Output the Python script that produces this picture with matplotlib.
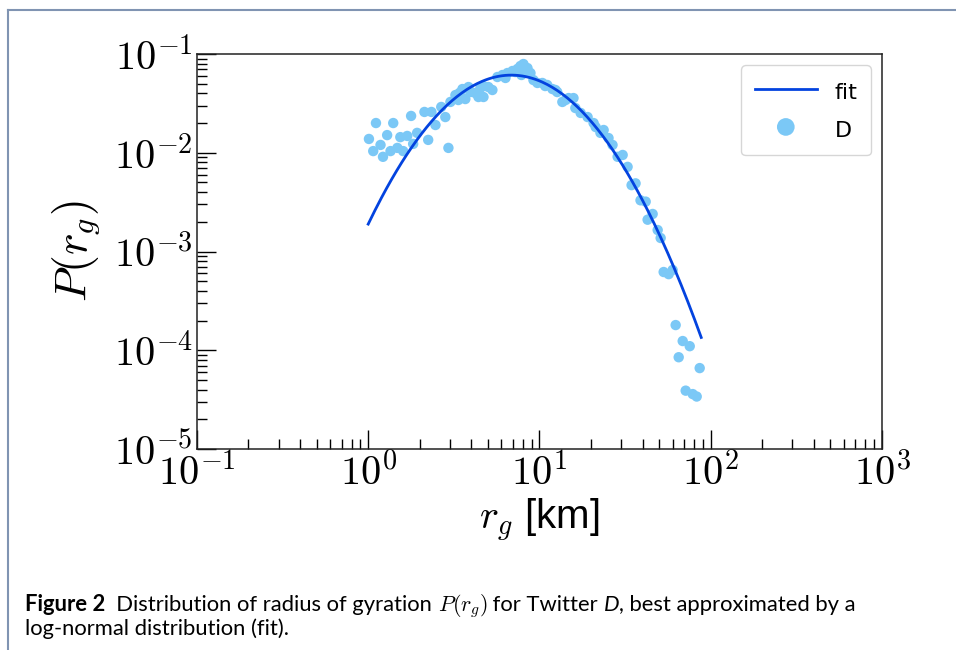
import numpy as np
import matplotlib
matplotlib.use("Agg")
import matplotlib.pyplot as plt
from matplotlib.lines import Line2D
from matplotlib.ticker import LogLocator
from matplotlib.offsetbox import TextArea, HPacker, VPacker, AnchoredOffsetbox

plt.rcParams['font.family'] = ['DejaVu Sans']
plt.rcParams['mathtext.fontset'] = 'cm'

# radius of gyration r_g [km] and P(r_g)
r_g = [1.01, 1.07, 1.11, 1.18, 1.22, 1.29, 1.35, 1.40, 1.48, 1.54,
       1.60, 1.69, 1.78, 1.83, 1.93, 2.13, 2.24, 2.34, 2.47, 2.67,
       2.82, 2.94, 3.02, 3.23, 3.36, 3.41, 3.55, 3.69, 3.85, 3.95,
       4.22, 4.40, 4.52, 4.71, 4.71, 5.03, 5.31, 5.68, 6.08, 6.33,
       6.50, 6.95, 7.24, 7.43, 7.74, 7.85, 8.06, 8.51, 8.86, 9.22,
       9.73, 10.4, 10.8, 11.1, 11.9, 12.4, 12.7, 13.6, 14.2, 14.8,
       15.8, 16.2, 17.4, 19.1, 20.7, 21.3, 22.7, 23.7, 25.3, 26.7,
       28.6, 30.6, 32.7, 34.5, 36.4, 38.9, 41.7, 42.8, 45.8, 49.0,
       51.0, 53.1, 56.8, 59.9, 62.4, 65.0, 68.6, 71.4, 75.4, 78.5,
       82.8, 86.2]
p_rg = [0.0138, 0.0104, 0.0200, 0.0120, 0.0091, 0.0151, 0.0104, 0.0200, 0.0112, 0.0144,
        0.0104, 0.0148, 0.0236, 0.0123, 0.0159, 0.0259, 0.0135, 0.0259, 0.0191, 0.0291,
        0.0230, 0.0112, 0.0327, 0.0384, 0.0342, 0.0403, 0.0442, 0.0350, 0.0463, 0.0412,
        0.0403, 0.0367, 0.0453, 0.0474, 0.0367, 0.0463, 0.0432, 0.0585, 0.0613, 0.0572,
        0.0642, 0.0673, 0.0657, 0.0705, 0.0756, 0.0613, 0.0792, 0.0721, 0.0642, 0.0545,
        0.0509, 0.0509, 0.0474, 0.0486, 0.0442, 0.0432, 0.0412, 0.0327, 0.0342, 0.0358,
        0.0358, 0.0284, 0.0253, 0.0230, 0.0200, 0.0182, 0.0159, 0.0170, 0.0141, 0.0120,
        0.0091, 0.0095, 0.0072, 0.0047, 0.0049, 0.0033, 0.0032, 0.0021, 0.0024, 0.00165,
        0.00137, 0.00062, 0.00059, 0.00065, 0.00018, 8.5e-5, 1.24e-4, 3.9e-5, 1.10e-4, 3.6e-5,
        3.4e-5, 6.6e-5]

# log-normal fit parameters
fit_mu = 2.457
fit_sigma = 0.73
fit_range = (1.0, 88.0)

xticks = [1e-1, 1e0, 1e1, 1e2, 1e3]
yticks = [1e-5, 1e-4, 1e-3, 1e-2, 1e-1]

fig = plt.figure(figsize=(9.56, 6.5), dpi=100)
ax = fig.add_axes([0.206, 0.3092, 0.7166, 0.6077])

rr = np.logspace(np.log10(fit_range[0]), np.log10(fit_range[1]), 200)
fit = np.exp(-(np.log(rr) - fit_mu) ** 2 / (2 * fit_sigma ** 2)) / (rr * fit_sigma * np.sqrt(2 * np.pi))
ax.plot(rr, fit, color='#0343df', lw=2, label='fit', zorder=3)
ax.scatter(r_g, p_rg, s=56, color='#7bc8f6', edgecolors='none', label='D', zorder=2)

ax.set_xscale('log')
ax.set_yscale('log')
ax.set_xlim(1e-1, 1e3)
ax.set_ylim(1e-5, 1e-1)
ax.set_xticks(xticks)
ax.set_yticks(yticks)
ax.xaxis.set_minor_locator(LogLocator(base=10, subs=range(2, 10), numticks=50))
ax.yaxis.set_minor_locator(LogLocator(base=10, subs=range(2, 10), numticks=50))
ax.set_xticklabels([r'$10^{%d}$' % int(np.log10(v)) for v in xticks])
ax.set_yticklabels([r'$10^{%d}$' % int(np.log10(v)) for v in yticks])
ax.tick_params(which='major', direction='in', length=14, width=1, labelsize=29, pad=3)
ax.tick_params(which='minor', direction='in', length=7, width=1)
for s in ax.spines.values():
    s.set_linewidth(1.1)
    s.set_color('#222222')

ax.set_xlabel(r'$r_g$ [km]', fontsize=29, family='Liberation Sans', labelpad=2)
ax.set_ylabel(r'$P(r_g)$', fontsize=33, labelpad=8)

ax.legend(loc='upper right', fontsize=16, markerscale=1.7, handlelength=2.8,
          handleheight=1.4, labelspacing=0.55, borderpad=0.6, borderaxespad=0.5,
          edgecolor='#cccccc', fancybox=True)

# caption
cap = dict(fontsize=15.8, family='Lato')
line1 = HPacker(children=[
    TextArea('Figure 2', textprops=dict(fontsize=15.8, family='Lato', weight='bold')),
    TextArea('  Distribution of radius of gyration ', textprops=cap),
    TextArea(r'$P(r_g)$', textprops=cap),
    TextArea(' for Twitter ', textprops=cap),
    TextArea('D', textprops=dict(fontsize=15.8, family='Lato', style='italic')),
    TextArea(', best approximated by a', textprops=cap),
], align='baseline', pad=0, sep=0)
line2 = TextArea('log-normal distribution (fit).', textprops=cap)
box = VPacker(children=[line1, line2], align='left', pad=0, sep=-1)
anch = AnchoredOffsetbox(loc='upper left', child=box, frameon=False, pad=0,
                         bbox_to_anchor=(25 / 956, 1 - 592 / 650),
                         bbox_transform=fig.transFigure, borderpad=0)
fig.add_artist(anch)

# page frame
fig.add_artist(Line2D([8 / 956, 1], [1 - 10 / 650, 1 - 10 / 650], transform=fig.transFigure,
                      color='#8094b2', lw=1.5))
fig.add_artist(Line2D([8 / 956, 8 / 956], [0, 1 - 10 / 650], transform=fig.transFigure,
                      color='#8094b2', lw=1.5))

fig.savefig('out.png', dpi=100)
